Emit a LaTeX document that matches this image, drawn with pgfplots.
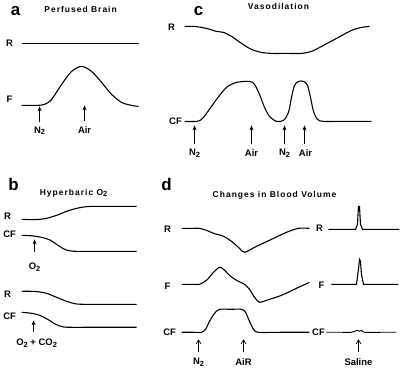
\documentclass[border=0pt]{standalone}
\usepackage{pgfplots}
\pgfplotsset{compat=1.18}
\usepackage{fontspec}
\setmainfont{Liberation Sans}
\usetikzlibrary{arrows.meta}
\newcommand{\ttl}[1]{{\fontsize{8.5}{10}\selectfont\bfseries\addfontfeatures{LetterSpace=12}#1}}
\newcommand{\lbl}[1]{{\fontsize{9.5}{11}\selectfont\bfseries #1}}
\newcommand{\sub}[1]{\raisebox{-0.25ex}{\fontsize{7.5}{8}\selectfont #1}}
\newcommand{\pl}[1]{{\fontsize{17}{18}\selectfont\bfseries #1}}
\begin{document}
\begin{tikzpicture}
\begin{axis}[width=400bp,height=370bp,scale only axis,xmin=0,xmax=400,ymin=0,ymax=370,
  y dir=reverse,axis lines=none,clip=false,
  every axis plot/.append style={black,line width=1.1pt},
  arr/.style={black,line width=0.9pt,-{Stealth[length=5pt,width=4pt]}},
  arro/.style={black,line width=0.7pt,-{Straight Barb[length=4pt,width=5pt]}}]
% panel a
\node at (14,12) {\pl{a}};
\node at (79,10) {\ttl{Perfused Brain}};
\node at (8,44) {\lbl{R}};
\addplot[sharp plot] coordinates {(20,44) (137,44)};
\node at (8,100) {\lbl{F}};
\addplot[smooth] coordinates {(20,106) (35,106) (43,105) (50,100) (60,85) (70,72) (80,67) (90,72) (100,83) (110,95) (120,103) (130,106) (137,107)};
\addplot[arr] coordinates {(38,123) (38,107)};
\node at (38,131) {\lbl{N\sub{2}}};
\addplot[arr] coordinates {(83,122) (83,106)};
\node at (83,131) {\lbl{Air}};
% panel c
\node at (197,12) {\pl{c}};
\node at (277,7) {\ttl{Vasodilation}};
\node at (170,28) {\lbl{R}};
\addplot[smooth] coordinates {(183,27) (193,27) (205,29) (215,32) (222,33) (230,37) (240,44) (250,50) (260,53) (270,54) (285,54) (300,54) (310,52) (320,47) (335,39) (350,31) (360,28) (368,27)};
\node at (174,122) {\lbl{CF}};
\addplot[smooth] coordinates {(183,122) (195,122) (200,120) (205,114) (215,100) (225,88) (235,83) (248,82) (253,85) (258,95) (263,108) (268,117) (275,122) (282,121) (287,113) (290,98) (293,86) (297,82) (302,82) (306,86) (309,98) (312,112) (316,120) (322,122) (340,122) (370,122)};
\addplot[arr] coordinates {(193,145) (193,126)};
\node at (193,154) {\lbl{N\sub{2}}};
\addplot[arr] coordinates {(250,145) (250,126)};
\node at (250,154) {\lbl{Air}};
\addplot[arr] coordinates {(283,145) (283,126)};
\node at (283,154) {\lbl{N\sub{2}}};
\addplot[arr] coordinates {(303,145) (303,126)};
\node at (304,154) {\lbl{Air}};
% panel b
\node at (12,185) {\pl{b}};
\node at (72,194) {\ttl{Hyperbaric O\sub{2}}};
\node at (6,217) {\lbl{R}};
\addplot[smooth] coordinates {(20,220) (30,220.3) (38,220) (45,219) (55,216) (65,212) (75,209) (85,207.3) (95,207) (110,207) (135,207)};
\node at (8,235) {\lbl{CF}};
\addplot[smooth] coordinates {(20,236) (30,236.5) (40,238) (48,240.5) (55,245) (62,249.5) (68,251.5) (75,252) (90,252) (135,252)};
\addplot[arr] coordinates {(33,253) (33,240)};
\node at (33,268) {\lbl{O\sub{2}}};
\node at (6,295) {\lbl{R}};
\addplot[smooth] coordinates {(20,292) (30,292) (37,292.5) (45,294) (55,298) (65,302) (75,304.7) (85,305) (100,305) (135,305)};
\node at (8,317) {\lbl{CF}};
\addplot[smooth] coordinates {(20,313) (30,314) (38,316) (46,320) (54,325) (62,327.7) (70,328) (85,328) (135,328)};
\addplot[arr] coordinates {(32,333) (32,321)};
\node at (35,344) {\lbl{O\sub{2} + CO\sub{2}}};
% panel d
\node at (165,185) {\pl{d}};
\node at (273,196) {\ttl{Changes in Blood Volume}};
\node at (166,230) {\lbl{R}};
\addplot[smooth] coordinates {(180,229) (192,229) (198,229) (205,231) (212,234) (222,237) (230,242) (238,249) (243,253) (255,247) (270,240) (285,233) (297,229) (308,229)};
\node at (318,229) {\lbl{R}};
\addplot[sharp plot] coordinates {(327,230) (354,230) (356,225) (357,207) (358,207) (359,225) (361,230) (398,230)};
\node at (166,287) {\lbl{F}};
\addplot[smooth] coordinates {(180,285) (192,285) (198,285) (205,281) (212,273) (218,268) (222,270) (228,276) (235,281) (243,285) (248,290) (253,298) (258,303) (265,301) (280,296) (295,289) (308,283)};
\node at (320,286) {\lbl{F}};
\addplot[sharp plot] coordinates {(330,285) (355,285) (357,270) (358,260) (359,262) (360,275) (362,285) (397,285)};
\node at (168,333) {\lbl{CF}};
\addplot[smooth] coordinates {(180,333) (192,333) (200,333) (204,330) (208,322) (213,314) (218,310) (229,310) (240,310) (244,313) (248,322) (252,330) (257,333) (280,333) (308,333)};
\node at (317,333) {\lbl{CF}};
\addplot[smooth,line width=0.9pt] coordinates {(325,333) (340,333) (350,333) (353,332) (356,331) (358,332) (360,331) (363,333) (380,333) (395,333)};
\addplot[arro] coordinates {(197,353) (197,340)};
\node at (197,363) {\lbl{N\sub{2}}};
\addplot[arro] coordinates {(242,353) (242,340)};
\node at (242,363) {\lbl{AiR}};
\addplot[arro] coordinates {(357,353) (357,340)};
\node at (357,363) {\lbl{Saline}};
\end{axis}
\end{tikzpicture}
\end{document}
